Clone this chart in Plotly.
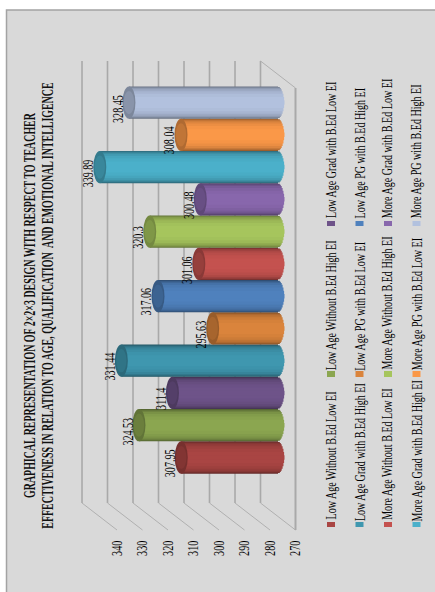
import numpy as np
import plotly.graph_objects as go

# Mean scores for the twelve groups, bottom to top of the chart
values = [307.95, 324.53, 311.4, 331.44, 295.63, 317.06, 301.06, 320.3, 300.48, 339.89, 308.04, 328.45]
series_names = [
    "Low Age Without B.Ed Low EI", "Low Age Without B.Ed High EI", "Low Age Grad with B.Ed Low EI",
    "Low Age Grad with B.Ed High EI", "Low Age PG with B.Ed Low EI", "Low Age PG with B.Ed High EI",
    "More Age Without B.Ed Low EI", "More Age Without B.Ed High EI", "More Age Grad with B.Ed Low EI",
    "More Age Grad with B.Ed High EI", "More Age PG with B.Ed Low EI", "More Age PG with B.Ed High EI",
]
colors = ["#a94543", "#8ba650", "#6e5389", "#3f97af", "#da843c", "#4f81bd",
          "#c4524f", "#a6c55d", "#8867ac", "#4bb0ca", "#fa9848", "#b2c1de"]
tick_values = [270, 280, 290, 300, 310, 320, 330, 340]
title_lines = [
    "GRAPHICAL REPRESENTATION OF 2×2×3 DESIGN WITH RESPECT TO TEACHER",
    "EFFECTIVENESS IN RELATION TO AGE, QUALIFICATION  AND EMOTIONAL INTELLIGENCE",
]

W, H = 435, 592
AXIS_BOTTOM = 537
PX_PER_UNIT = 2.55
ROW_PX = 32.27
DEPTH = 17.5 / PX_PER_UNIT          # half depth of the 3-D box, in value units
CAP = 6.5 / PX_PER_UNIT             # half width of a cylinder's end ellipse
SERIF = "Liberation Serif"


def shade(hex_color, k):
    rgb = [int(hex_color[i:i + 2], 16) for i in (1, 3, 5)]
    return "rgb({},{},{})".format(*[min(255, int(c * k)) for c in rgb])


def row_at(py):
    return (457.5 - py) / ROW_PX


def px(x):
    return x / W


def py(y):
    return 1 - y / H


y_pos = np.arange(len(values))
vals = np.array(values)
fig = go.Figure()

# Nested bars give the shaded roundness of each cylinder
bands = [(1.0, 0.60), (0.96, 0.70), (0.90, 0.80), (0.82, 0.88), (0.70, 0.94), (0.54, 0.98), (0.34, 1.0), (0.14, 1.0)]
for frac, k in bands:
    base = 270 - CAP * np.sqrt(1 - min(frac, 1) ** 2)
    fig.add_trace(go.Bar(
        y=y_pos, x=vals - base, base=base, orientation="h", width=frac,
        marker=dict(color=[shade(c, k) for c in colors], line_width=0),
        showlegend=False, hoverinfo="skip",
    ))

shapes = [dict(type="rect", xref="paper", yref="paper", x0=px(6.5), x1=px(440), y0=py(10), y1=py(600),
               fillcolor="#d9d9d9", line=dict(color="#a3a3a3", width=1.5), layer="below")]

# Back wall, side floor and front edge of the 3-D box
GRID = "#a9a9a9"
wall_top, wall_bottom = row_at(61), row_at(503)
front_top, front_bottom = row_at(88), row_at(530)
for t in tick_values:
    shapes.append(dict(type="line", xref="x", yref="y", x0=t + DEPTH, x1=t + DEPTH, y0=wall_bottom, y1=wall_top,
                       line=dict(color=GRID, width=1.6), layer="below"))
    shapes.append(dict(type="line", xref="x", yref="y", x0=t + DEPTH, x1=t - DEPTH, y0=wall_bottom, y1=front_bottom,
                       line=dict(color="#b0b0b0", width=1), layer="below"))
shapes.append(dict(type="line", xref="x", yref="y", x0=270 + DEPTH, x1=270 - DEPTH, y0=wall_top, y1=front_top,
                   line=dict(color="#b0b0b0", width=1), layer="below"))
shapes.append(dict(type="line", xref="x", yref="y", x0=270 - DEPTH, x1=270 - DEPTH, y0=front_top, y1=front_bottom,
                   line=dict(color=GRID, width=2), layer="below"))

# End caps at each bar's value
for yi, v, c in zip(y_pos, values, colors):
    shapes.append(dict(type="circle", xref="x", yref="y", x0=v + CAP, x1=v - CAP, y0=yi - 0.5, y1=yi + 0.5,
                       fillcolor=shade(c, 0.70), line_width=0, layer="above"))
    shapes.append(dict(type="circle", xref="x", yref="y", x0=v + CAP * 0.8, x1=v - CAP * 0.8, y0=yi - 0.36, y1=yi + 0.36,
                       fillcolor=shade(c, 0.77), line_width=0, layer="above"))

annotations = []
for yi, v in zip(y_pos, values):
    annotations.append(dict(x=v + 4.3, y=yi - 0.18, xref="x", yref="y", text=f"{v:g}", textangle=-90, showarrow=False,
                            xanchor="center", yanchor="middle",
                            font=dict(family=SERIF, size=14, color="#000000")))

for text, x, y in zip(title_lines, (29, 48), (305, 305.5)):
    annotations.append(dict(x=px(x), y=py(y), xref="paper", yref="paper", text=text, textangle=-90, showarrow=False,
                            xanchor="center", yanchor="middle",
                            font=dict(family=SERIF, size=17, color="#111111", weight="bold")))

# Legend laid out as three rows of four rotated entries
legend_x = [331.5, 360, 388, 417]
legend_centers = [[456, 305, 150], [452, 306, 153], [454.5, 303.5, 148.5], [451, 304, 151.5]]
swatch_y = [(522, 527), (371, 377), (221, 226)]
for col in range(4):
    for row in range(3):
        idx = col * 3 + row
        annotations.append(dict(x=px(legend_x[col]), y=py(legend_centers[col][row]), xref="paper", yref="paper",
                                text=series_names[idx], textangle=-90, showarrow=False,
                                xanchor="center", yanchor="middle",
                                font=dict(family=SERIF, size=14, color="#000000")))
        y0, y1 = swatch_y[row]
        cx = [331, 359.5, 388, 416.5][col]
        shapes.append(dict(type="rect", xref="paper", yref="paper", x0=px(cx - 4), x1=px(cx + 4), y0=py(y0), y1=py(y1),
                           fillcolor=colors[idx], line_width=0, layer="below"))

left_val = 340 + 99.5 / PX_PER_UNIT
right_val = 340 - (W - 99.5) / PX_PER_UNIT
bottom_row = row_at(AXIS_BOTTOM)
top_row = row_at(0)

fig.update_layout(
    width=W, height=H, margin=dict(l=0, r=0, t=0, b=0), barmode="overlay",
    paper_bgcolor="white", plot_bgcolor="rgba(0,0,0,0)", showlegend=False,
    shapes=shapes, annotations=annotations,
    xaxis=dict(range=[left_val, right_val], tickvals=[t - DEPTH for t in tick_values],
               ticktext=[str(t) for t in tick_values], tickangle=-90, ticks="", showgrid=False, zeroline=False,
               showline=False, tickfont=dict(family=SERIF, size=14, color="#000000"), ticklabelstandoff=0),
    yaxis=dict(range=[bottom_row, top_row], domain=[(H - AXIS_BOTTOM) / H, 1], showticklabels=False,
               showgrid=False, zeroline=False, showline=False, ticks=""),
)

# The lettering is tall and narrow, so each string is condensed along its baseline
condense = """
var gd = document.getElementsByClassName('plotly-graph-div')[0];
gd.querySelectorAll('.annotation-text, .xtick text').forEach(function (t) {
  var bold = (t.style.fontWeight || '').toString().match(/bold|700/);
  var f = bold ? 0.585 : 0.72;
  var x = t.getAttribute('x'), y = t.getAttribute('y');
  var tr = t.getAttribute('transform') || '';
  t.setAttribute('transform', tr + ' translate(' + x + ',' + y + ') scale(' + f + ',1) translate(' + (-x) + ',' + (-y) + ')');
});
"""
fig.write_html("out.html", post_script=condense)
